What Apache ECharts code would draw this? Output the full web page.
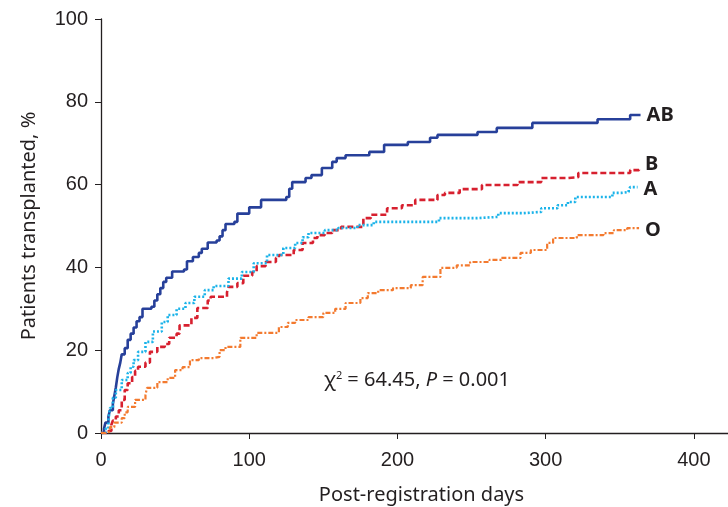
<!DOCTYPE html>
<html>
<head>
<meta charset="utf-8">
<script src="https://cdn.jsdelivr.net/npm/echarts@6/dist/echarts.min.js"></script>
<style>
  html, body { margin: 0; padding: 0; background: #fff; }
  #chart { width: 728px; height: 507px; }
</style>
</head>
<body>
<div id="chart"></div>
<script>
// cumulative % transplanted, [day, value] (step curves)
var groupNames = ['AB', 'B', 'A', 'O'];
var abData = [[0,0],[2,1],[3,2.5],[5,4],[6,5.5],[8,7],[9,9],[10,11],[11,13.5],[12,15.5],[13,17],[14,19],[16,20.5],[18,22.5],[20,24],[22,25.5],[24,27],[26,28],[28,30],[34,30.5],[36,32],[38,33.5],[40,35],[42,36.5],[44,37.5],[48,39],[56,39.5],[58,41.5],[62,42.5],[66,43.5],[68,44.5],[72,46],[78,46.5],[80,47.5],[82,49],[84,50.5],[90,51],[92,53],[100,54.5],[108,56.3],[125,57],[127,59],[129,60.6],[138,61.6],[142,62.3],[149,64],[156,65.5],[159,66.4],[165,67.1],[181,67.9],[191,69.6],[207,70.3],[222,71.3],[227,72],[254,72.7],[267,73.7],[291,74.9],[335,75.8],[357,76.8],[364,76.8]];
var bData = [[0,0],[5,0.5],[7,2],[8,3],[10,4],[12,5.5],[14,8],[16,10.4],[18,12],[21,13.5],[23,15],[25,16],[30,17],[33,19.6],[38,20.8],[43,21.5],[46,23],[51,24],[53,26],[61,27.8],[65,30.2],[72,32],[74,32.9],[85,34],[86,35.3],[92,36.2],[96,38],[102,38.9],[105,40.3],[111,41.3],[118,42.3],[120,43],[130,44.2],[136,45.9],[143,47.1],[146,47.8],[151,48.3],[156,49],[162,49.8],[177,51.9],[182,52.7],[193,54.3],[203,55],[212,56.3],[227,57.5],[232,58],[242,58.9],[257,59.9],[281,60.6],[297,61.6],[315,61.8],[322,62.8],[357,63.5],[363,64]];
var aData = [[0,0],[3,1],[5,3],[6,6],[8,8.5],[10,10.4],[14,12.8],[18,14.5],[20,16],[22,17.6],[25,19.6],[30,22],[35,24.5],[41,26.8],[45,28.5],[51,30],[57,31.4],[63,32.9],[70,34.5],[76,35.5],[86,37.3],[95,38.9],[103,41],[112,43],[123,44.7],[131,45.9],[136,47.3],[140,48.3],[151,49],[160,49.5],[173,50.2],[184,51],[228,51.9],[254,52.2],[268,53.1],[285,53.4],[297,54.3],[308,55],[315,55.8],[320,57],[345,58],[351,58.2],[356,58.7],[357,59.4],[362,59.4]];
var oData = [[0,0],[3,0.3],[6,1.4],[9,2.5],[14,3.6],[16,5],[18,6.3],[23,8],[30,9.2],[31,10.9],[38,12.3],[45,13.3],[50,15.2],[55,15.9],[60,17.6],[66,18.1],[76,18.4],[80,20],[84,20.8],[94,23],[105,24.2],[120,25.6],[126,26.6],[131,27.3],[140,28],[150,29],[158,30],[165,31.4],[175,32.6],[180,33.8],[187,34.5],[197,35],[209,35.7],[217,37.7],[229,39.9],[240,40.5],[249,41.3],[262,41.8],[270,42.3],[283,43.5],[290,44.2],[301,45.9],[305,47.1],[321,47.8],[339,48.3],[346,49],[355,49.5],[363,49.5]];
var yTicks = [0, 20, 40, 60, 80, 100];
var xTicks = [0, 100, 200, 300, 400];

var myChart = echarts.init(document.getElementById('chart'));

function stepSeries(name, data, color, width, dash, labelOffset) {
    return {
        name: name,
        type: 'line',
        step: 'end',
        data: data,
        symbol: 'none',
        lineStyle: { color: color, width: width, type: dash },
        endLabel: {
            show: true,
            formatter: '{a}',
            color: '#231f20',
            fontFamily: 'Noto Sans',
            fontWeight: 'bold',
            fontSize: 20,
            distance: 6,
            offset: labelOffset
        },
        animation: false
    };
}

var axisText = { color: '#231f20', fontFamily: 'Liberation Sans', fontSize: 20 };

var option = {
    backgroundColor: '#fff',
    grid: { left: 101, right: 0, top: 19, bottom: 74, containLabel: false, outerBoundsMode: 'none' },
    xAxis: {
        type: 'value',
        min: 0, max: 423, interval: 100,
        name: 'Post-registration days',
        nameLocation: 'middle',
        nameGap: 52,
        nameTextStyle: { color: '#231f20', fontFamily: 'Noto Sans', fontSize: 20, padding: [0, 0, 0, 14] },
        axisLine: { lineStyle: { color: '#231f20', width: 1.3 } },
        axisTick: { show: true, length: 6, lineStyle: { color: '#231f20' }, customValues: xTicks },
        axisLabel: Object.assign({ margin: 17, customValues: xTicks }, axisText),
        splitLine: { show: false }
    },
    yAxis: {
        type: 'value',
        min: 0, max: 100, interval: 20,
        name: 'Patients transplanted, %',
        nameLocation: 'middle',
        nameGap: 62,
        nameTextStyle: { color: '#231f20', fontFamily: 'Noto Sans', fontSize: 20 },
        axisLine: { show: true, lineStyle: { color: '#231f20', width: 1.3 } },
        axisTick: { show: true, length: 6, lineStyle: { color: '#231f20' } },
        axisLabel: Object.assign({ margin: 13 }, axisText),
        splitLine: { show: false }
    },
    graphic: [{
        type: 'text',
        left: 324,
        top: 370,
        style: {
            text: '{n|χ}{s|2}{n| = 64.45, }{i|P}{n| = 0.001}',
            rich: {
                n: { fontFamily: 'Noto Sans', fontSize: 20, fill: '#231f20' },
                i: { fontFamily: 'Noto Sans', fontSize: 20, fontStyle: 'italic', fill: '#231f20' },
                s: { fontFamily: 'Noto Sans', fontSize: 11, fill: '#231f20', verticalAlign: 'top', padding: [0, 0, 10, 0] }
            }
        }
    }],
    series: [
        stepSeries(groupNames[0], abData, '#27409a', 2.6, 'solid', [0, 0]),
        stepSeries(groupNames[1], bData, '#d7202f', 2.6, [6, 3], [0, -4]),
        stepSeries(groupNames[2], aData, '#1bb3e9', 2.6, [2, 2], [0, 2]),
        stepSeries(groupNames[3], oData, '#f37a2f', 2.2, [5, 2, 2, 2], [0, 2])
    ]
};

myChart.setOption(option);
</script>
</body>
</html>
